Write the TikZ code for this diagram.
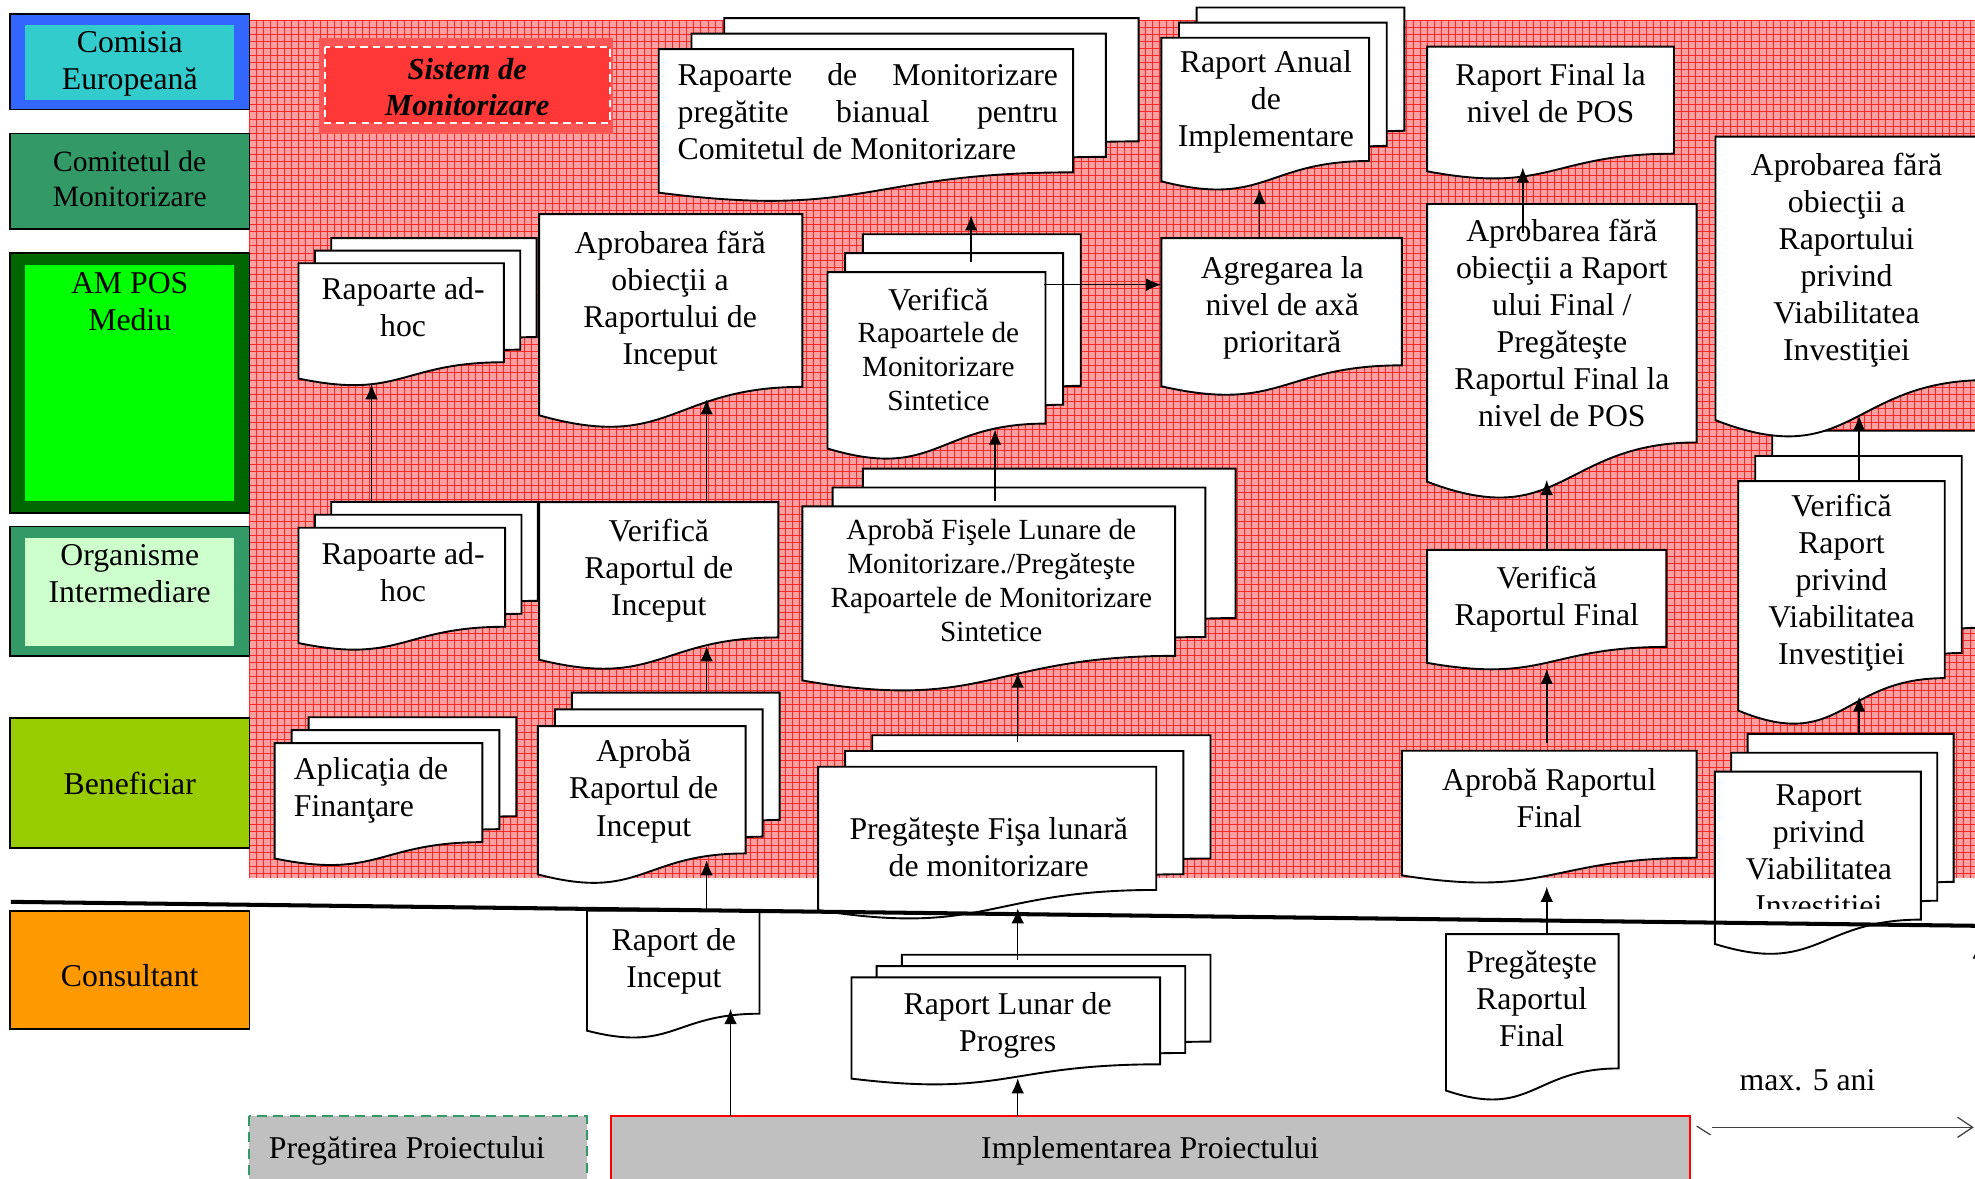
\documentclass[tikz,border=0pt]{standalone}
\usepackage{fontspec}
\setmainfont{Liberation Serif}
\usetikzlibrary{arrows.meta}
\definecolor{cBlue}{RGB}{51,102,255}
\definecolor{cCyan}{RGB}{51,204,204}
\definecolor{cSea}{RGB}{51,153,102}
\definecolor{cDkGreen}{RGB}{0,102,0}
\definecolor{cLime}{RGB}{0,255,0}
\definecolor{cPale}{RGB}{204,255,204}
\definecolor{cOlive}{RGB}{153,204,0}
\definecolor{cOrange}{RGB}{255,153,0}
\definecolor{cGray}{RGB}{192,192,192}
\definecolor{cPink}{RGB}{255,160,160}
\definecolor{cGrid}{RGB}{255,40,40}
\definecolor{cSysOut}{RGB}{255,85,85}
\definecolor{cSysIn}{RGB}{255,55,55}
\newcommand\docshp[4]{%
  \pgfmathsetmacro\dsR{#1+#3}%
  \pgfmathsetmacro\dsM{#1+0.5*#3}%
  \pgfmathsetmacro\dsA{#2+0.802*#4}%
  \pgfmathsetmacro\dsB{#2+1.1075*#4}%
  \pgfmathsetmacro\dsC{#2+0.934*#4}%
  \filldraw[docline] (#1,#2) -- (\dsR,#2) -- (\dsR,\dsA) .. controls (\dsM,\dsA) and (\dsM,\dsB) .. (#1,\dsC) -- cycle;}
\newcommand\multidoc[6]{%
  \pgfmathsetmacro\mdXa{#1+2*#5}\pgfmathsetmacro\mdYa{#2-2*#6}%
  \docshp{\mdXa}{\mdYa}{#3}{#4}%
  \pgfmathsetmacro\mdXb{#1+#5}\pgfmathsetmacro\mdYb{#2-#6}%
  \docshp{\mdXb}{\mdYb}{#3}{#4}%
  \docshp{#1}{#2}{#3}{#4}}
\newcommand\arrowv[4]{\coordinate (#1s) at (#2,#3); \coordinate (#1e) at (#2,#4); \draw[arr] (#1s) -- (#1e);}
\begin{document}
\begin{tikzpicture}[x=0.5pt,y=-0.5pt,
  docline/.style={fill=white, draw=black, line width=0.75pt, line join=miter},
  lane/.style={draw=black, line width=0.7pt},
  txt/.style={font=\fontsize{12.6}{14.7}\selectfont, align=center, inner sep=0pt, yshift=-2pt, execute at begin node=\strut, execute at end node=\strut},
  stxt/.style={txt, font=\fontsize{11.6}{13.5}\selectfont},
  arr/.style={-{Latex[length=6pt,width=5pt]}, line width=0.6pt},
]
\useasboundingbox (0,0) rectangle (1568,936);
\clip (0,0) rectangle (1568,936);
% monitoring system background
\fill[cPink] (198,16) rectangle (1568,697);
\foreach \i in {0,...,245} \draw[cGrid, line width=0.3pt] ({198+\i*5.6},16) -- ({198+\i*5.6},697);
\foreach \j in {0,...,121} \draw[cGrid, line width=0.3pt] (198,{16+\j*5.6}) -- (1568,{16+\j*5.6});
% lanes
\filldraw[lane, fill=cBlue] (8,11) rectangle (198,87);
\fill[cCyan] (20,20) rectangle (186,79);
\node[txt] (ce) at (103,48.5) {Comisia\\Europeană};
\filldraw[lane, fill=cSea] (8,106) rectangle (198,182);
\node[txt, font=\fontsize{11.7}{14}\selectfont] (cm) at (103,142) {Comitetul de\\Monitorizare};
\filldraw[lane, fill=cDkGreen] (8,201) rectangle (198,407);
\fill[cLime] (20,210) rectangle (186,398);
\node[txt] (am) at (103,239.5) {AM POS\\Mediu};
\filldraw[lane, fill=cSea] (8,418) rectangle (198,521);
\fill[cPale] (20,427) rectangle (186,513);
\node[txt] (oi) at (103,455.5) {Organisme\\Intermediare};
\filldraw[lane, fill=cOlive] (8,570) rectangle (198,673);
\node[txt] (bf) at (103,621) {Beneficiar};
\filldraw[lane, fill=cOrange] (8,723) rectangle (198,817);
\node[txt] (cs) at (103,773) {Consultant};
% Sistem de Monitorizare
\fill[cSysOut] (253,30) rectangle (487,106);
\filldraw[fill=cSysIn, draw=white, line width=0.8pt, dash pattern=on 3pt off 2pt] (258,37) rectangle (484,98);
\node[txt, font=\fontsize{12.1}{14.5}\selectfont\bfseries\itshape] (sm) at (371,69.5) {Sistem de\\Monitorizare};
% documents
\multidoc{237}{209}{163}{98}{13}{10}
\node[txt] (adh1) at (320,244.5) {Rapoarte ad-\\hoc};
\docshp{428}{170}{209}{171}
\node[txt] (apI) at (532,237) {Aprobarea fără\\obiecţii a\\Raportului de\\Inceput};
\multidoc{523}{39}{329}{122}{26}{12.3}
\node[txt, align=left] (rdm) at (689,89) {\hbox to 151pt{Rapoarte\hfill de\hfill Monitorizare}\\\hbox to 151pt{pregătite\hfill bianual\hfill pentru}\\Comitetul de Monitorizare};
\multidoc{657}{216}{173}{150}{14}{15}
\node[txt] (vr1) at (745,237) {Verifică};
\node[stxt] (vr2) at (745,291) {Rapoartele de\\Monitorizare\\Sintetice};
\multidoc{922}{30}{165}{122}{14}{12}
\node[txt] (ra) at (1005,78.5) {Raport Anual\\de\\Implementare};
\docshp{922}{189}{191}{126}
\node[txt] (ag) at (1018,242) {Agregarea la\\nivel de axă\\prioritară};
\docshp{1133}{37}{196}{106}
\node[txt] (rf) at (1231,74.5) {Raport Final la\\nivel de POS};
\docshp{1133}{162}{214}{236}
\node[txt] (af) at (1240,257) {Aprobarea fără\\obiecţii a Raport\\ului Final /\\Pregăteşte\\Raportul Final la\\nivel de POS};
\multidoc{1380}{382}{164}{195}{13.5}{20}
\node[txt] (vv) at (1462,460) {Verifică\\Raport\\privind\\Viabilitatea\\Investiţiei};
\docshp{1362}{108.5}{215}{241}
\node[txt] (av) at (1466,204.5) {Aprobarea fără\\obiecţii a\\Raportului\\privind\\Viabilitatea\\Investiţiei};
\multidoc{237}{419}{164}{98}{13}{10.3}
\node[txt] (adh2) at (320,454.5) {Rapoarte ad-\\hoc};
\docshp{428}{398.6}{190}{134}
\node[txt] (vi) at (523,450.5) {Verifică\\Raportul de\\Inceput};
\multidoc{637}{402}{296}{148}{24}{15}
\node[stxt] (afl) at (787,461) {Aprobă Fişele Lunare de\\Monitorizare./Pregăteşte\\Rapoartele de Monitorizare\\Sintetice};
\docshp{1133}{436.6}{190}{96}
\node[txt] (vf) at (1228,473.5) {Verifică\\Raportul Final};
\multidoc{218}{590}{165}{98}{13.5}{10.3}
\node[txt, align=left, anchor=west] (apl) at (233,625) {Aplicaţia de\\Finanţare};
\multidoc{427}{576.5}{165}{126}{13.5}{13.3}
\node[txt] (ari) at (511,626) {Aprobă\\Raportul de\\Inceput};
\multidoc{649.5}{608.7}{268.5}{122}{21.5}{12.5}
\node[txt] (pf) at (785,672.5) {Pregăteşte Fişa lunară\\de monitorizare};
\docshp{1113}{596}{234}{106}
\node[txt] (arf) at (1230,634) {Aprobă Raportul\\Final};
\multidoc{1361.5}{612.6}{163.5}{146.5}{13}{15}
\begin{scope}
\clip (1360,600) rectangle (1530,721);
\node[txt] (rpv) at (1444,675.5) {Raport\\privind\\Viabilitatea\\Investiţiei};
\end{scope}
\docshp{466}{723}{137}{102}
\node[txt] (rdi) at (535,761) {Raport de\\Inceput};
\multidoc{676}{776}{245}{86}{20}{9}
\node[txt] (rlp) at (800,811.5) {Raport Lunar de\\Progres};
\docshp{1148}{741.6}{137}{133}
\node[txt] (prf) at (1216,793.5) {Pregăteşte\\Raportul\\Final};
% separator
\coordinate (sepL) at (8.6,716);
\coordinate (sepR) at (1568,735);
\draw[line width=1.6pt] (sepL) -- (sepR);
% phases
\filldraw[fill=cGray, draw=cSea, line width=0.8pt, dash pattern=on 4pt off 2.5pt] (198,886) rectangle (466,950);
\node[txt] (pp) at (323,910) {Pregătirea Proiectului};
\filldraw[fill=cGray, draw=red, line width=0.8pt] (485,886) rectangle (1342,950);
\node[txt] (ip) at (913,910) {Implementarea Proiectului};
\node[txt] (m5) at (1435,856) {max. 5 ani};
\coordinate (m5s) at (1359,895);
\coordinate (m5e) at (1567,895);
\coordinate (m5a) at (1347,894);
\coordinate (m5b) at (1358,901);
\draw[-{Straight Barb[length=6pt,width=8pt]}, line width=0.5pt, black!75] (m5s) -- (m5e);
\draw[line width=0.5pt, black!75] (m5a) -- (m5b);
% arrows
\arrowv{a1}{295}{398.6}{305}
\arrowv{a2}{561}{398.6}{317}
\arrowv{a3}{561}{550}{513}
\arrowv{a4}{561}{723}{683}
\arrowv{a5}{580}{886}{801}
\arrowv{a6}{808}{886}{856}
\arrowv{a7}{808}{762}{721}
\arrowv{a8}{808}{589}{534}
\arrowv{a9}{790}{398}{341}
\arrowv{a10}{771}{208}{171}
\coordinate (a11s) at (829,226);
\coordinate (a11e) at (922,226);
\draw[arr] (a11s) -- (a11e);
\arrowv{a12}{1000}{189}{150}
\arrowv{a13}{1209}{185}{133}
\arrowv{a14}{1228}{436.6}{381}
\arrowv{a15}{1228}{590}{531}
\arrowv{a16}{1228}{741.6}{704}
\arrowv{a17}{1476}{582.3}{553}
\arrowv{a18}{1476}{382}{330}
\arrowv{a20}{1571}{800}{749}
\end{tikzpicture}
\end{document}
